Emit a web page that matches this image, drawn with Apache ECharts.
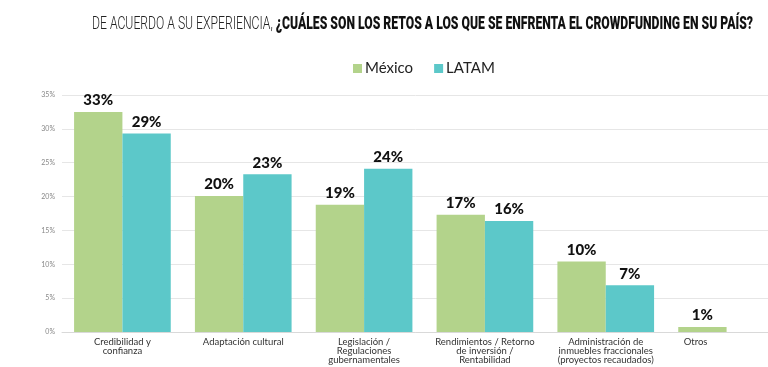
<!DOCTYPE html>
<html>
<head>
<meta charset="utf-8">
<script src="https://cdn.jsdelivr.net/npm/echarts@6/dist/echarts.min.js"></script>
<style>html,body{margin:0;padding:0;background:#fff;}#c{width:768px;height:367px;}</style>
</head>
<body>
<div id="c"></div>
<script>
var categories = [
  'Credibilidad y\nconfianza',
  'Adaptación cultural',
  'Legislación /\nRegulaciones\ngubernamentales',
  'Rendimientos / Retorno\nde inversión /\nRentabilidad',
  'Administración de\ninmuebles fraccionales\n(proyectos recaudados)',
  'Otros'
];
var mexico = [32.5, 20.1, 18.8, 17.3, 10.4, 0.75];
var latam = [29.3, 23.3, 24.1, 16.4, 6.9, null];
var yTicks = [0, 5, 10, 15, 20, 25, 30, 35];
var seriesNames = ['México', 'LATAM'];
var titleLight = 'DE ACUERDO A SU EXPERIENCIA, ';
var titleBold = '¿CUÁLES SON LOS RETOS A LOS QUE SE ENFRENTA EL CROWDFUNDING EN SU PAÍS?';

var fontA = '300 19px Roboto';
var fontB = '900 19px Roboto';
var mctx = document.createElement('canvas').getContext('2d');
mctx.font = fontA; var wA = mctx.measureText(titleLight).width;
mctx.font = fontB; var wB = mctx.measureText(titleBold).width;
var titleScale = 661 / (wA + wB);

var chart = echarts.init(document.getElementById('c'), null, {renderer: 'canvas'});
var labelCfg = {
  show: true, position: 'top', distance: 4,
  color: '#111', fontFamily: 'Lato', fontWeight: 900, fontSize: 15,
  formatter: function (p) { return Math.round(p.value) + '%'; }
};
chart.setOption({
  backgroundColor: '#fff',
  animation: false,
  graphic: [{
    type: 'text', x: 92, y: 24, scaleX: titleScale, scaleY: 1,
    style: {
      text: '{a|' + titleLight + '}{b|' + titleBold + '}',
      textAlign: 'left', textVerticalAlign: 'middle',
      rich: {
        a: {fontFamily: 'Roboto', fontWeight: 300, fontSize: 19, fill: '#222'},
        b: {fontFamily: 'Roboto', fontWeight: 900, fontSize: 19, fill: '#111'}
      }
    }
  }],
  legend: {
    top: 56, left: 348,
    itemWidth: 9, itemHeight: 9, itemGap: 21,
    icon: 'rect',
    textStyle: {fontFamily: 'Lato', fontSize: 15, color: '#222', padding: [0, 0, 0, -2]},
    data: seriesNames
  },
  grid: {left: 62, width: 725, top: 95, bottom: 35, containLabel: false, outerBoundsMode: 'none'},
  xAxis: {
    type: 'category',
    data: categories.map(function (c) {
      return c === 'Otros' ? {value: c, textStyle: {padding: [0, 62, 0, 0]}} : c;
    }),
    axisLine: {lineStyle: {color: '#d9d9d9'}},
    axisTick: {show: false},
    axisLabel: {interval: 0, fontFamily: 'Lato', fontSize: 9.5, lineHeight: 9, color: '#333', margin: 5}
  },
  yAxis: {
    type: 'value', min: 0, max: 35, interval: 5,
    axisLine: {show: false}, axisTick: {show: false},
    splitLine: {lineStyle: {color: '#e6e6e6'}},
    axisLabel: {formatter: '{value}%', fontFamily: 'Lato', fontSize: 7, color: '#888', margin: 7}
  },
  series: [
    {name: seriesNames[0], type: 'bar', data: mexico, barGap: '0%', barCategoryGap: '20%',
     itemStyle: {color: '#b3d38b'}, label: labelCfg},
    {name: seriesNames[1], type: 'bar', data: latam,
     itemStyle: {color: '#5cc8c9'}, label: labelCfg}
  ]
});
</script>
</body>
</html>
